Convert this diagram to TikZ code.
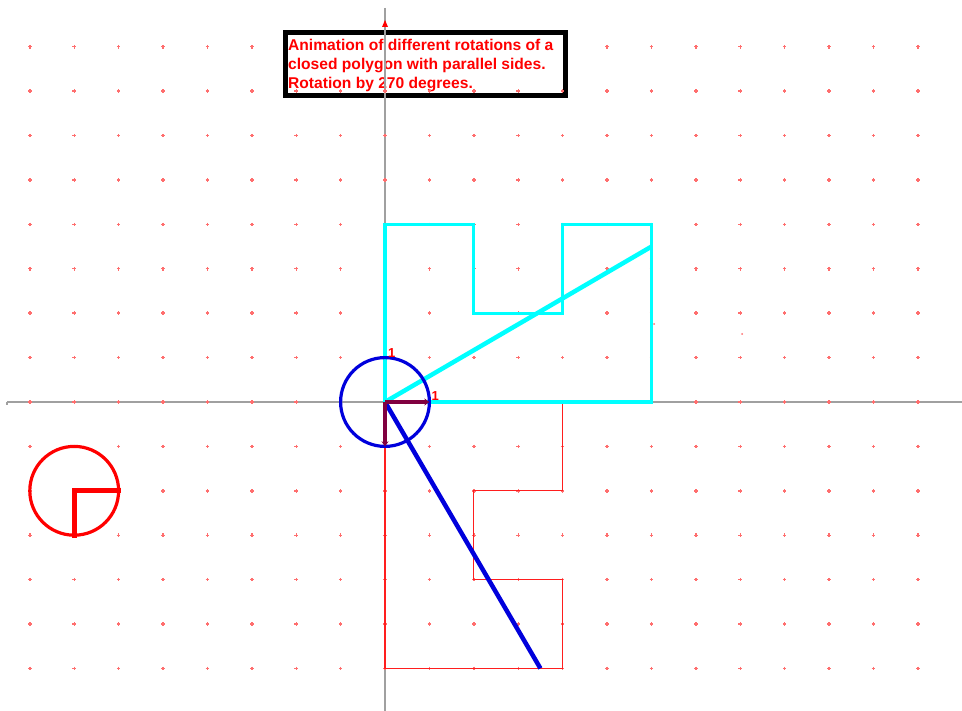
\documentclass[tikz,border=0pt]{standalone}
\usepackage{fontspec}
\setmainfont{Liberation Sans}
\usetikzlibrary{arrows.meta}
\definecolor{axisgray}{RGB}{160,160,160}
\definecolor{dotred}{RGB}{255,110,110}
\definecolor{polyred}{RGB}{255,30,30}
\definecolor{vecpurple}{RGB}{128,0,64}
\definecolor{myblue}{RGB}{0,0,220}
\definecolor{mycyan}{RGB}{0,255,255}
\tikzset{
  griddot/.style={dotred, line width=1.4pt},
  titletext/.style={text=red, font=\bfseries\fontsize{15.6}{19}\selectfont, inner sep=0pt, anchor=base west},
  onelabel/.style={text=red, font=\bfseries\fontsize{13}{13}\selectfont, inner sep=0pt},
  unitvec/.style={vecpurple, line width=4.5pt, -{Stealth[length=5pt,width=7pt]}},
}
\begin{document}
\begin{tikzpicture}[x=1pt,y=-1pt]
\useasboundingbox[fill=white] (0,0) rectangle (962,711);
% title box
\draw[line width=5pt, fill=white] (285.5,32.5) rectangle (565.5,96);
\node[titletext] (t1) at (288,50.5) {Animation of different rotations of a};
\node[titletext] (t2) at (288,69.5) {closed polygon with parallel sides.};
\node[titletext] (t3) at (288,88.5) {Rotation by 270 degrees.};
% axes
\draw[axisgray, line width=1.2pt] (7,402) -- (962,402);
\draw[axisgray, line width=1.2pt] (7,402) -- (7,405);
\draw[axisgray, line width=1.2pt] (385,8) -- (385,711);
\fill[red] (382,27) -- (385,20) -- (388,27) -- cycle;
% grid dots
\foreach \i in {-8,...,12}{
  \foreach \j in {-8,...,6}{
    \pgfmathsetmacro{\px}{385+44.4*\i}
    \pgfmathsetmacro{\py}{402+44.4*\j}
    \ifnum\j=-8
      \ifnum\i<-2 \draw[griddot] (\px-1.8,\py) -- (\px+1.8,\py) (\px,\py-1.8) -- (\px,\py+1.8);\fi
      \ifnum\i>4 \draw[griddot] (\px-1.8,\py) -- (\px+1.8,\py) (\px,\py-1.8) -- (\px,\py+1.8);\fi
    \else
      \draw[griddot] (\px-1.8,\py) -- (\px+1.8,\py) (\px,\py-1.8) -- (\px,\py+1.8);
    \fi
  }
}
% stray marks
\fill[dotred] (654,324) circle (1);
\fill[dotred] (742,334) circle (1);
\begin{scope}[shift={(385,402)}, x=44.4pt, y=44.4pt]
  \coordinate (O) at (0,0);
  % rotated polygon (270 degrees)
  \draw[polyred, line width=1.3pt] (0,0) -- (4,0) -- (4,-2) -- (2,-2) -- (2,-4) -- (4,-4) -- (4,-6) -- (0,-6) -- cycle;
  \coordinate (B) at (3.5,-6);
  \draw[myblue, line width=4.5pt] (O) -- (B);
  % original polygon
  \draw[mycyan, line width=3.2pt] (0,0) -- (0,4) -- (2,4) -- (2,2) -- (4,2) -- (4,4) -- (6,4) -- (6,0) -- cycle;
  \coordinate (C) at (6,3.5);
  \draw[mycyan, line width=4.5pt] (O) -- (C);
  % unit circle and vectors
  \node[draw=myblue, line width=3.2pt, circle, minimum size=88.8pt, inner sep=0pt] (uc) at (O) {};
  \coordinate (E1) at (1,0);
  \coordinate (E2) at (0,-1);
  \draw[unitvec] (O) -- (E1);
  \draw[unitvec] (O) -- (E2);
  \node[onelabel] (l1) at (0.15,1.11) {1};
  \node[onelabel] (l2) at (1.13,0.13) {1};
  % red indicator circle
  \coordinate (R) at (-7,-2);
  \node[draw=red, line width=3.2pt, circle, minimum size=88.8pt, inner sep=0pt] (rc) at (R) {};
  \coordinate (R1) at (-6,-2);
  \coordinate (R2) at (-7,-3);
  \draw[red, line width=5pt, line cap=rect] (R2) -- (R) -- (R1);
\end{scope}
\end{tikzpicture}
\end{document}
